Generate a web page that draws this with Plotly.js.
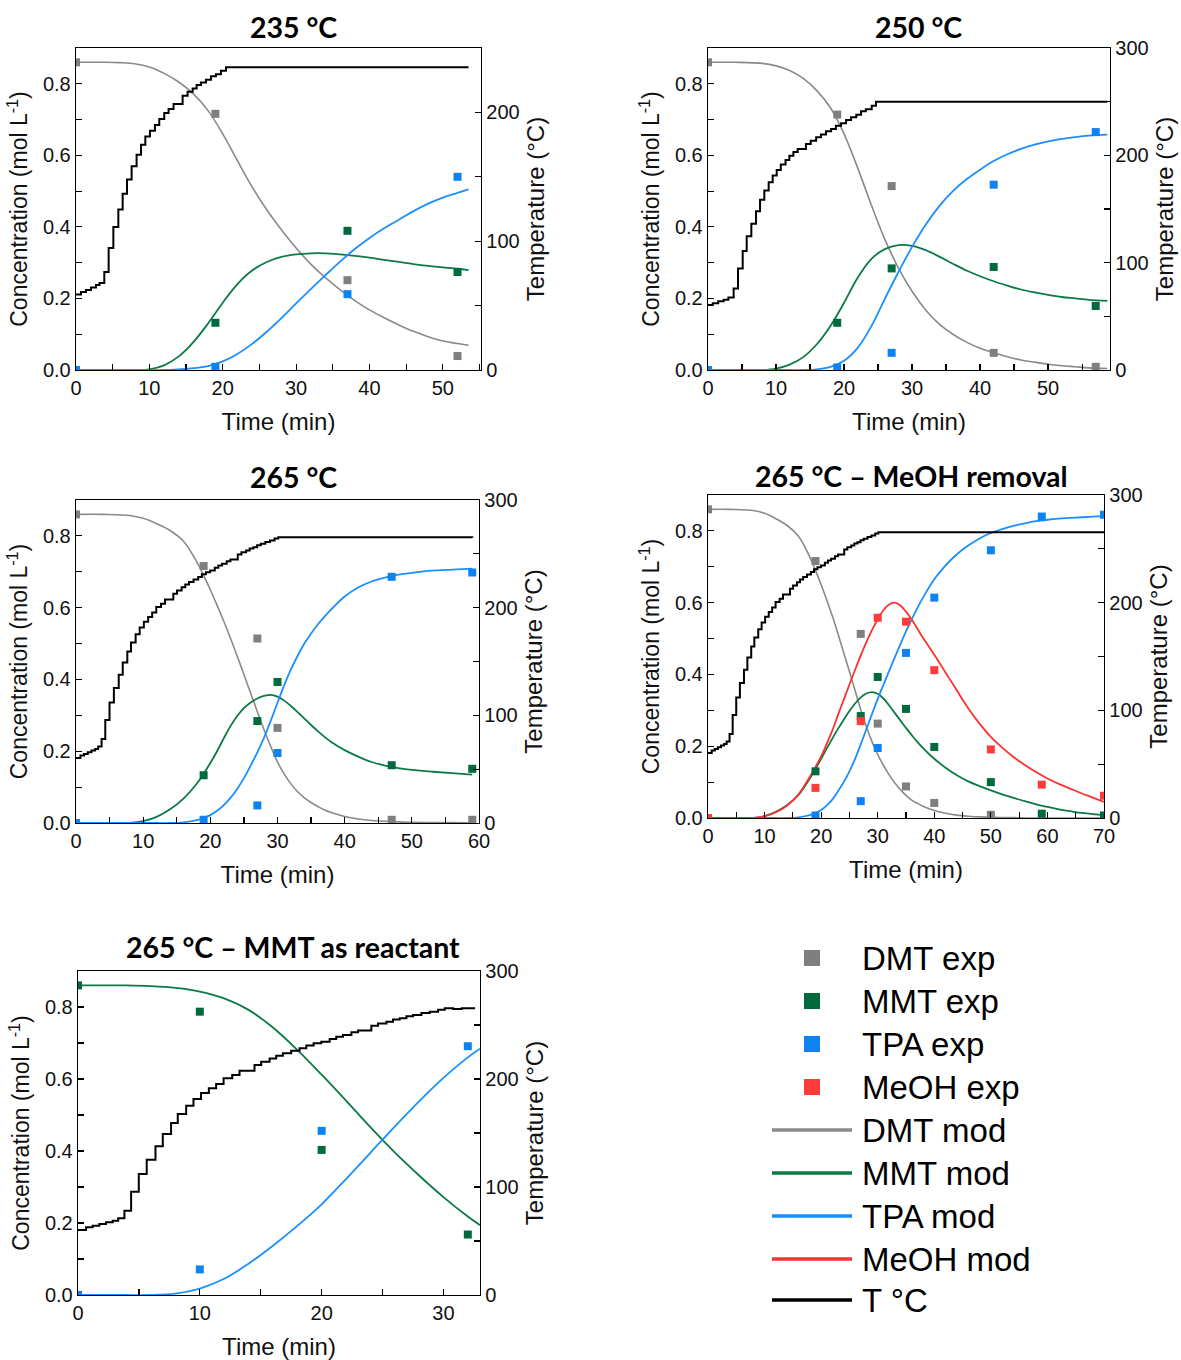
<!DOCTYPE html>
<html><head><meta charset="utf-8">
<script src="https://cdn.plot.ly/plotly-3.0.1.min.js"></script>
<style>html,body{margin:0;padding:0;background:#fff}</style>
</head><body><div id="chart" style="width:1181px;height:1360px"></div>
<script>
// ---------------- DATA ----------------
const seriesNames = ['DMT exp','MMT exp','TPA exp','MeOH exp','DMT mod','MMT mod','TPA mod','MeOH mod','T °C'];
const panelTitles = ['235 °C','250 °C','265 °C','265 °C – MeOH removal','265 °C – MMT as reactant'];

// Panel 1: 235 °C
const exp1Time = [0, 19, 37, 52];
const exp1DMT = [0.86, 0.716, 0.251, 0.039];
const exp1MMT = [0, 0.132, 0.389, 0.274];
const exp1TPA = [0, 0.009, 0.212, 0.54];
const mod1Time = [0, 4, 6, 8, 10, 12, 14, 16, 18, 20, 22, 24, 26, 28, 30, 32, 34, 36, 38, 40, 42, 44, 46, 48, 50, 52, 53.5];
const mod1DMT = [0.86, 0.86, 0.859, 0.856, 0.847, 0.829, 0.805, 0.772, 0.725, 0.66, 0.585, 0.512, 0.448, 0.392, 0.341, 0.296, 0.258, 0.224, 0.194, 0.168, 0.146, 0.126, 0.108, 0.093, 0.081, 0.074, 0.069];
const mod1MMT = [0, 0, 0, 0, 0.002, 0.013, 0.038, 0.078, 0.13, 0.188, 0.24, 0.278, 0.302, 0.316, 0.323, 0.326, 0.326, 0.323, 0.319, 0.314, 0.308, 0.302, 0.296, 0.291, 0.287, 0.283, 0.279];
const mod1TPA = [0, 0, 0, 0, 0, 0, 0.002, 0.005, 0.011, 0.024, 0.045, 0.073, 0.107, 0.145, 0.186, 0.226, 0.265, 0.303, 0.338, 0.369, 0.396, 0.42, 0.444, 0.465, 0.482, 0.495, 0.505];
const temp1Time = [0, 0.68, 1.36, 2.04, 2.72, 3.2, 3.86, 4.45, 5.09, 5.77, 6.36, 6.95, 7.58, 8.26, 8.86, 9.45, 10.08, 10.76, 11.35, 12.03, 12.62, 13.3, 14.53, 15.21, 15.9, 16.44, 17.03, 17.71, 18.39, 19.07, 19.75, 20.44, 53.5];
const temp1Value = [58.6, 60.6, 62.2, 64, 65.9, 67.6, 76.1, 94.7, 111, 124.6, 136.8, 148, 158.2, 167.2, 174.8, 181.2, 185.8, 190.2, 194.8, 199.5, 202.6, 206.5, 213, 216.1, 218.6, 221.2, 223.3, 225.4, 228, 229.7, 232.3, 235, 235];

// Panel 2: 250 °C
const exp2Time = [0, 19, 27, 42, 57];
const exp2DMT = [0.86, 0.714, 0.514, 0.048, 0.009];
const exp2MMT = [0, 0.132, 0.284, 0.288, 0.179];
const exp2TPA = [0, 0.007, 0.048, 0.518, 0.665];
const mod2Time = [0, 4, 8, 10, 12, 14, 16, 18, 20, 22, 24, 26, 28, 30, 32, 34, 36, 38, 40, 42, 44, 46, 48, 50, 52, 54, 56, 58.7];
const mod2DMT = [0.86, 0.86, 0.857, 0.85, 0.837, 0.815, 0.781, 0.733, 0.66, 0.565, 0.462, 0.365, 0.285, 0.22, 0.168, 0.128, 0.1, 0.078, 0.061, 0.048, 0.037, 0.028, 0.022, 0.016, 0.012, 0.009, 0.006, 0.004];
const mod2MMT = [0, 0, 0, 0.004, 0.015, 0.036, 0.072, 0.123, 0.188, 0.258, 0.31, 0.338, 0.349, 0.347, 0.335, 0.317, 0.297, 0.278, 0.262, 0.248, 0.236, 0.225, 0.217, 0.21, 0.204, 0.2, 0.196, 0.193];
const mod2TPA = [0, 0, 0, 0, 0, 0, 0.002, 0.009, 0.026, 0.062, 0.122, 0.199, 0.274, 0.344, 0.406, 0.458, 0.5, 0.533, 0.56, 0.584, 0.603, 0.618, 0.63, 0.639, 0.646, 0.651, 0.655, 0.658];
const temp2Time = [0, 0.7, 1.5, 2.3, 3.0, 3.77, 4.41, 5.1, 5.69, 6.37, 7.06, 7.65, 8.28, 8.92, 9.51, 10.1, 10.7, 11.4, 11.96, 12.55, 13.19, 14.4, 15.1, 15.9, 16.6, 17.35, 18.1, 18.8, 19.56, 20.3, 21.03, 21.8, 22.5, 23.2, 24.07, 24.7, 58.7];
const temp2Value = [60.5, 62.3, 64, 65.5, 67.5, 75.9, 94.5, 110.9, 124.5, 136.3, 148, 158.6, 167.3, 175, 181.2, 186.4, 191.4, 195.7, 199.7, 203, 206, 210.6, 213.7, 216.8, 219.3, 222.4, 224.5, 227.6, 230, 232.9, 235.4, 237.9, 241, 243, 246.2, 250, 250];

// Temperature ramp shared by the three 265 °C runs
const ramp265Time = [0, 0.66, 1.2, 1.75, 2.3, 2.85, 3.3, 3.81, 4.36, 4.99, 5.64, 6.36, 6.96, 7.64, 8.19, 8.88, 9.48, 10.1, 10.74, 11.34, 11.95, 12.66, 13.26, 14.49, 15.04, 15.73, 16.27, 16.82, 17.5, 18.19, 18.74, 19.34, 19.97, 20.66, 21.2, 21.75, 22.44, 22.99, 24.08, 24.63, 25.32, 25.86, 26.41, 26.96, 27.51, 28.19, 28.88, 29.56, 30.11];
const ramp265Value = [60.3, 62.7, 64.2, 65.7, 67.3, 68.8, 71, 78.1, 95.7, 112, 125.3, 137.7, 149, 159.3, 167.6, 175.3, 181.5, 187, 191.4, 195.4, 200.6, 203.7, 207.7, 213, 216, 219, 221.6, 223.8, 226.2, 228.4, 231, 233, 234.6, 237, 239.2, 240.7, 243.2, 244.8, 249.4, 251.5, 253, 255, 256.2, 258, 259.3, 261, 262.3, 264.2, 265.4];

// Panel 3: 265 °C
const exp3Time = [0, 19, 27, 30, 47, 59];
const exp3DMT = [0.86, 0.716, 0.514, 0.265, 0.009, 0.009];
const exp3MMT = [0, 0.133, 0.284, 0.393, 0.161, 0.151];
const exp3TPA = [0, 0.009, 0.049, 0.195, 0.686, 0.698];
const mod3Time = [0, 4, 8, 10, 12, 14, 16, 18, 19, 20, 21, 22, 23, 24, 25, 26, 27, 28, 29, 30, 31, 32, 33, 34, 35, 36, 37, 38, 40, 42, 44, 46, 48, 50, 53, 56, 59];
const mod3DMT = [0.86, 0.86, 0.857, 0.849, 0.834, 0.815, 0.785, 0.727, 0.69, 0.65, 0.607, 0.562, 0.515, 0.465, 0.414, 0.362, 0.31, 0.26, 0.213, 0.17, 0.136, 0.109, 0.087, 0.07, 0.057, 0.046, 0.036, 0.029, 0.018, 0.011, 0.007, 0.005, 0.003, 0.002, 0.001, 0.001, 0];
const mod3MMT = [0, 0, 0, 0.005, 0.017, 0.038, 0.068, 0.11, 0.137, 0.167, 0.2, 0.236, 0.27, 0.298, 0.32, 0.336, 0.347, 0.354, 0.357, 0.352, 0.341, 0.326, 0.309, 0.291, 0.273, 0.256, 0.24, 0.226, 0.203, 0.185, 0.17, 0.16, 0.153, 0.148, 0.143, 0.139, 0.135];
const mod3TPA = [0, 0, 0, 0, 0, 0, 0.002, 0.008, 0.014, 0.022, 0.034, 0.05, 0.07, 0.095, 0.125, 0.16, 0.197, 0.238, 0.285, 0.335, 0.384, 0.428, 0.466, 0.5, 0.528, 0.553, 0.575, 0.595, 0.631, 0.656, 0.673, 0.684, 0.692, 0.697, 0.703, 0.706, 0.709];
const temp3End = [59, 265];

// Panel 4: 265 °C - MeOH removal
const exp4Time = [0, 19, 27, 30, 35, 40, 50, 59, 70];
const exp4DMT = [0.86, 0.716, 0.513, 0.263, 0.088, 0.042, 0.009, null, null];
const exp4MMT = [0, 0.13, 0.284, 0.393, 0.304, 0.198, 0.1, 0.012, 0.007];
const exp4TPA = [0, 0.007, 0.047, 0.195, 0.46, 0.614, 0.746, 0.84, 0.845];
const exp4MeOH = [0, 0.084, 0.27, 0.558, 0.547, 0.412, 0.191, 0.093, 0.062];
const mod4Time = [0, 4, 8, 10, 12, 14, 16, 18, 19, 20, 21, 22, 23, 24, 25, 26, 27, 28, 29, 30, 31, 32, 33, 34, 35, 36, 37, 38, 40, 42, 44, 46, 48, 50, 52, 54, 56, 58, 60, 62, 64, 66, 68, 70];
const mod4DMT = [0.86, 0.86, 0.857, 0.849, 0.834, 0.815, 0.785, 0.727, 0.69, 0.65, 0.607, 0.562, 0.512, 0.46, 0.408, 0.355, 0.302, 0.254, 0.212, 0.177, 0.147, 0.121, 0.098, 0.079, 0.063, 0.05, 0.041, 0.033, 0.021, 0.013, 0.008, 0.005, 0.003, 0.002, 0.001, 0.001, 0, 0, 0, 0, 0, 0, 0, 0];
const mod4MMT = [0, 0, 0, 0.005, 0.017, 0.036, 0.064, 0.11, 0.137, 0.165, 0.194, 0.222, 0.249, 0.274, 0.298, 0.319, 0.336, 0.347, 0.351, 0.346, 0.333, 0.314, 0.293, 0.272, 0.251, 0.231, 0.212, 0.195, 0.165, 0.14, 0.119, 0.102, 0.089, 0.077, 0.066, 0.056, 0.047, 0.038, 0.031, 0.024, 0.019, 0.014, 0.011, 0.008];
const mod4TPA = [0, 0, 0, 0, 0, 0, 0.002, 0.008, 0.014, 0.022, 0.035, 0.052, 0.075, 0.1, 0.13, 0.165, 0.205, 0.248, 0.29, 0.332, 0.371, 0.409, 0.447, 0.484, 0.52, 0.553, 0.585, 0.614, 0.665, 0.704, 0.735, 0.759, 0.779, 0.794, 0.805, 0.814, 0.821, 0.827, 0.831, 0.834, 0.836, 0.838, 0.84, 0.841];
const mod4MeOH = [0, 0, 0, 0.005, 0.016, 0.035, 0.066, 0.115, 0.142, 0.172, 0.207, 0.245, 0.288, 0.33, 0.372, 0.413, 0.453, 0.49, 0.524, 0.554, 0.579, 0.595, 0.6, 0.592, 0.575, 0.553, 0.528, 0.502, 0.455, 0.405, 0.355, 0.306, 0.263, 0.226, 0.196, 0.17, 0.148, 0.128, 0.11, 0.095, 0.082, 0.069, 0.057, 0.045];
const temp4End = [70, 265];

// Panel 5: 265 °C - MMT as reactant
const exp5Time = [0, 10, 20, 32];
const exp5MMT = [0.86, 0.787, 0.403, 0.168];
const exp5TPA = [0, 0.071, 0.456, 0.691];
const mod5Time = [0, 4, 6, 8, 10, 12, 14, 16, 18, 20, 22, 24, 26, 28, 30, 32, 33];
const mod5MMT = [0.86, 0.86, 0.858, 0.853, 0.843, 0.824, 0.792, 0.743, 0.681, 0.612, 0.54, 0.466, 0.396, 0.332, 0.272, 0.218, 0.194];
const mod5TPA = [0, 0, 0, 0.004, 0.018, 0.045, 0.087, 0.137, 0.192, 0.252, 0.322, 0.395, 0.468, 0.538, 0.603, 0.66, 0.684];
const temp5End = [30.8, 264.8, 31.5, 265.4, 32.6, 265.4];

// ---------------- STYLE ----------------
const W = 1181, H = 1360;
const C = {dmtM:'#7f7f7f', dmtL:'#8a8a8a', mmtM:'#006a3c', mmtL:'#0b7a45', tpaM:'#0d82f0', tpaL:'#1a8fff', meohM:'#ff3b3b', meohL:'#ff3030', temp:'#000000'};
const FONT = 'Liberation Sans, Arial, sans-serif';
const TITLEFONT = 'Lato, Open Sans, sans-serif';
const px = x => x / W, py = y => 1 - y / H;

const panels = [
  {box:[76,481,48,370],  xr:[0,55.2], tmax:250, tx:293, ty:27},
  {box:[708,1110,48,370], xr:[0,59.1], tmax:300, tx:918, ty:27},
  {box:[76,479,500,823], xr:[0,60],   tmax:300, tx:293, ty:477},
  {box:[708,1104,495,818], xr:[0,70], tmax:300, tx:911, ty:476},
  {box:[78,480,971,1295], xr:[0,33.0], tmax:300, tx:293, ty:947}
];

const traces = [];
function ids(i){ const n=i+1; return {x: n===1?'x':'x'+n, y: (2*n-1)===1?'y':'y'+(2*n-1), y2:'y'+(2*n)}; }
function line(i, x, y, color, w){ const a=ids(i); traces.push({type:'scatter', mode:'lines', x:x, y:y, xaxis:a.x, yaxis:a.y, line:{color:color, width:w, shape:'spline', smoothing:1}, showlegend:false, hoverinfo:'skip'}); }
function temp(i, x, y){ const a=ids(i); traces.push({type:'scatter', mode:'lines', x:x, y:y, xaxis:a.x, yaxis:a.y2, line:{color:C.temp, width:2, shape:'hv'}, showlegend:false, hoverinfo:'skip'}); }
function pts(i, x, y, color){ const a=ids(i); traces.push({type:'scatter', mode:'markers', x:x, y:y, xaxis:a.x, yaxis:a.y, marker:{symbol:'square', size:8, color:color}, showlegend:false, hoverinfo:'skip'}); }

// panel 1
line(0, mod1Time, mod1DMT, C.dmtL, 1.6); line(0, mod1Time, mod1MMT, C.mmtL, 1.8); line(0, mod1Time, mod1TPA, C.tpaL, 1.8);
pts(0, exp1Time, exp1DMT, C.dmtM); pts(0, exp1Time, exp1MMT, C.mmtM); pts(0, exp1Time, exp1TPA, C.tpaM);
temp(0, temp1Time, temp1Value);
// panel 2
line(1, mod2Time, mod2DMT, C.dmtL, 1.6); line(1, mod2Time, mod2MMT, C.mmtL, 1.8); line(1, mod2Time, mod2TPA, C.tpaL, 1.8);
pts(1, exp2Time, exp2DMT, C.dmtM); pts(1, exp2Time, exp2MMT, C.mmtM); pts(1, exp2Time, exp2TPA, C.tpaM);
temp(1, temp2Time, temp2Value);
// panel 3
line(2, mod3Time, mod3DMT, C.dmtL, 1.6); line(2, mod3Time, mod3MMT, C.mmtL, 1.8); line(2, mod3Time, mod3TPA, C.tpaL, 1.8);
pts(2, exp3Time, exp3DMT, C.dmtM); pts(2, exp3Time, exp3MMT, C.mmtM); pts(2, exp3Time, exp3TPA, C.tpaM);
temp(2, ramp265Time.concat([temp3End[0]]), ramp265Value.concat([temp3End[1]]));
// panel 4
line(3, mod4Time, mod4DMT, C.dmtL, 1.6); line(3, mod4Time, mod4MMT, C.mmtL, 1.8); line(3, mod4Time, mod4TPA, C.tpaL, 1.8); line(3, mod4Time, mod4MeOH, C.meohL, 1.8);
pts(3, exp4Time, exp4DMT, C.dmtM); pts(3, exp4Time, exp4MMT, C.mmtM); pts(3, exp4Time, exp4TPA, C.tpaM); pts(3, exp4Time, exp4MeOH, C.meohM);
temp(3, ramp265Time.concat([temp4End[0]]), ramp265Value.concat([temp4End[1]]));
// panel 5
line(4, mod5Time, mod5MMT, C.mmtL, 1.8); line(4, mod5Time, mod5TPA, C.tpaL, 1.8);
pts(4, exp5Time, exp5MMT, C.mmtM); pts(4, exp5Time, exp5TPA, C.tpaM);
temp(4, ramp265Time.concat([temp5End[0], temp5End[2], temp5End[4]]), ramp265Value.concat([temp5End[1], temp5End[3], temp5End[5]]));

const layout = {
  width: W, height: H, margin:{l:0,r:0,t:0,b:0}, paper_bgcolor:'#fff', plot_bgcolor:'rgba(0,0,0,0)',
  showlegend:false, font:{family:FONT, color:'#111'},
  annotations:[], shapes:[]
};
const tickBase = {showline:true, linecolor:'#000', linewidth:1.3, ticks:'inside', ticklen:6, tickwidth:1.2, tickcolor:'#000', showgrid:false, zeroline:false, tickfont:{family:FONT, size:20, color:'#111'}, fixedrange:true};

panels.forEach((p, i) => {
  const n = i+1, a = ids(i);
  const xk = n===1 ? 'xaxis' : 'xaxis'+n;
  const yk = (2*n-1)===1 ? 'yaxis' : 'yaxis'+(2*n-1);
  const y2k = 'yaxis'+(2*n);
  const xd = [px(p.box[0]), px(p.box[1])], yd = [py(p.box[3]), py(p.box[2])];
  layout[xk] = Object.assign({}, tickBase, {domain:xd, range:p.xr, anchor:a.y, mirror:true, dtick:10, tick0:0,
    minor:{dtick:5, ticks:'inside', ticklen:6, tickwidth:1.2, tickcolor:'#000', showgrid:false},
    title:{text:'Time (min)', font:{family:FONT, size:24, color:'#111'}, standoff:15}});
  layout[yk] = Object.assign({}, tickBase, {domain:yd, range:[0,0.9], anchor:a.x, dtick:0.2, tick0:0, tickformat:'.1f',
    minor:{dtick:0.1, ticks:'inside', ticklen:6, tickwidth:1.2, tickcolor:'#000', showgrid:false},
    title:{text:'Concentration (mol L<sup>-1</sup>)', font:{family:FONT, size:23, color:'#111'}, standoff:8}});
  layout[y2k] = Object.assign({}, tickBase, {overlaying:a.y, side:'right', anchor:a.x, range:[0,p.tmax], dtick:100, tick0:0,
    minor:{dtick:50, ticks:'inside', ticklen:6, tickwidth:1.2, tickcolor:'#000', showgrid:false},
    title:{text:'Temperature (°C)', font:{family:FONT, size:24, color:'#111'}, standoff:8}});
  layout.annotations.push({text:'<b>'+panelTitles[i]+'</b>', xref:'paper', yref:'paper', x:px(p.tx), y:py(p.ty), xanchor:'center', yanchor:'middle', showarrow:false, font:{family:TITLEFONT, size:28.5, color:'#000'}});
});

// Legend (drawn manually)
const legY = [958, 1001, 1044, 1087, 1130, 1173, 1216, 1259, 1300];
const legColors = [C.dmtM, C.mmtM, C.tpaM, C.meohM, C.dmtL, C.mmtL, C.tpaL, C.meohL, C.temp];
seriesNames.forEach((name, k) => {
  const y = legY[k];
  if (k < 4) {
    layout.shapes.push({type:'rect', xref:'paper', yref:'paper', x0:px(804), x1:px(820), y0:py(y+8), y1:py(y-8), fillcolor:legColors[k], line:{width:0}});
  } else {
    layout.shapes.push({type:'line', xref:'paper', yref:'paper', x0:px(772), x1:px(852), y0:py(y), y1:py(y), line:{color:legColors[k], width:3.5}});
  }
  layout.annotations.push({text:name, xref:'paper', yref:'paper', x:px(860), y:py(y), xanchor:'left', yanchor:'middle', showarrow:false, font:{family:FONT, size:33, color:'#000'}});
});

Plotly.newPlot('chart', traces, layout, {staticPlot:true, displayModeBar:false});
</script></body></html>
